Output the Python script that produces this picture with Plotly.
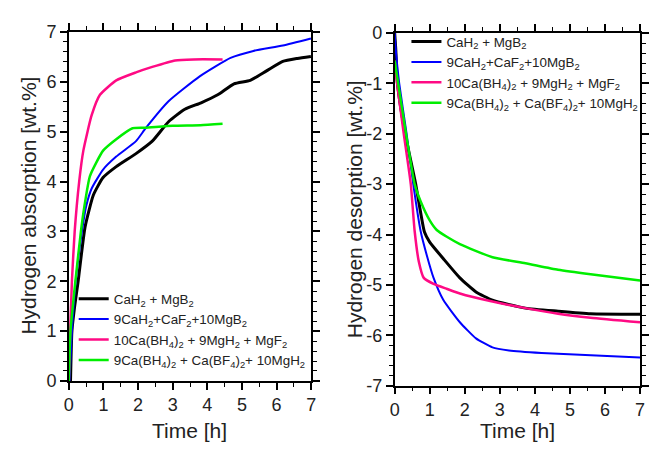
import plotly.graph_objects as go

# ---------------- data ----------------
series_names = [
    "CaH<sub>2</sub> + MgB<sub>2</sub>",
    "9CaH<sub>2</sub>+CaF<sub>2</sub>+10MgB<sub>2</sub>",
    "10Ca(BH<sub>4</sub>)<sub>2</sub> + 9MgH<sub>2</sub> + MgF<sub>2</sub>",
    "9Ca(BH<sub>4</sub>)<sub>2</sub> + Ca(BF<sub>4</sub>)<sub>2</sub>+ 10MgH<sub>2</sub>",
]
series_colors = ["#000000", "#0000ff", "#ff0a84", "#00ee00"]

# absorption (left panel)
abs_black_t = [0.05, 0.09, 0.17, 0.27, 0.47, 0.71, 0.99, 1.37, 1.94, 2.41, 2.88, 3.35, 3.82, 4.30, 4.77, 5.24, 5.71, 6.18, 6.60, 6.99]
abs_black_y = [0.0, 1.0, 1.5, 2.0, 3.09, 3.73, 4.08, 4.30, 4.56, 4.81, 5.20, 5.45, 5.58, 5.74, 5.96, 6.03, 6.22, 6.41, 6.47, 6.51]
abs_blue_t = [0.02, 0.09, 0.20, 0.38, 0.50, 0.66, 0.99, 1.37, 1.94, 2.22, 2.88, 3.78, 4.67, 5.33, 6.18, 6.99]
abs_blue_y = [0.0, 1.0, 2.0, 3.0, 3.5, 3.86, 4.24, 4.50, 4.81, 5.07, 5.61, 6.11, 6.48, 6.62, 6.73, 6.87]
abs_pink_t = [0.0, 0.04, 0.09, 0.17, 0.30, 0.42, 0.66, 0.90, 1.37, 1.94, 2.41, 3.07, 3.60, 4.44]
abs_pink_y = [0.0, 1.0, 2.0, 3.0, 4.0, 4.62, 5.33, 5.74, 6.03, 6.19, 6.30, 6.43, 6.45, 6.45]
abs_green_t = [0.0, 0.05, 0.19, 0.35, 0.45, 0.61, 0.99, 1.37, 1.84, 2.20, 3.00, 3.80, 4.44]
abs_green_y = [0.0, 1.0, 2.0, 3.0, 3.5, 4.11, 4.62, 4.85, 5.07, 5.08, 5.12, 5.13, 5.16]

# desorption (right panel)
des_black_t = [0.0, 0.03, 0.08, 0.30, 0.60, 0.75, 0.85, 1.00, 1.39, 1.86, 2.32, 2.79, 3.73, 4.66, 5.59, 7.0]
des_black_y = [0.0, -0.3, -1.0, -2.0, -3.0, -3.6, -3.95, -4.15, -4.48, -4.86, -5.14, -5.30, -5.46, -5.52, -5.57, -5.58]
des_blue_t = [0.0, 0.04, 0.13, 0.34, 0.53, 0.74, 0.92, 1.11, 1.39, 1.86, 2.32, 2.79, 3.26, 4.19, 5.13, 6.06, 7.0]
des_blue_y = [0.0, -0.4, -1.0, -2.0, -3.0, -3.93, -4.42, -4.86, -5.30, -5.74, -6.06, -6.24, -6.30, -6.35, -6.38, -6.41, -6.44]
des_pink_t = [0.0, 0.07, 0.26, 0.46, 0.57, 0.69, 0.83, 1.11, 1.50, 1.86, 2.79, 3.73, 4.66, 5.59, 7.0]
des_pink_y = [-0.55, -1.0, -2.0, -3.0, -3.93, -4.54, -4.86, -4.98, -5.08, -5.17, -5.33, -5.46, -5.57, -5.65, -5.74]
des_green_t = [0.0, 0.10, 0.27, 0.57, 0.74, 1.00, 1.20, 1.50, 1.86, 2.79, 3.73, 4.66, 5.59, 7.0]
des_green_y = [-0.55, -1.0, -1.76, -3.0, -3.34, -3.72, -3.91, -4.05, -4.19, -4.45, -4.57, -4.70, -4.79, -4.91]

x_ticks = [0, 1, 2, 3, 4, 5, 6, 7]
abs_ticks = [0, 1, 2, 3, 4, 5, 6, 7]
des_ticks = [0, -1, -2, -3, -4, -5, -6, -7]
des_tick_text = ["0", "-1", "-2", "-3", "-4", "-5", "-6", "-7"]

abs_data = [(abs_black_t, abs_black_y), (abs_blue_t, abs_blue_y),
            (abs_pink_t, abs_pink_y), (abs_green_t, abs_green_y)]
des_data = [(des_black_t, des_black_y), (des_blue_t, des_blue_y),
            (des_pink_t, des_pink_y), (des_green_t, des_green_y)]
widths = [3, 2, 2.5, 2.5]

FONT = "Liberation Sans, Arial, sans-serif"
fig = go.Figure()

for i, (t, y) in enumerate(abs_data):
    fig.add_trace(go.Scatter(x=t, y=y, mode="lines", name=series_names[i],
                             line=dict(color=series_colors[i], width=widths[i], shape="spline", smoothing=0.5),
                             xaxis="x", yaxis="y", legend="legend"))
for i, (t, y) in enumerate(des_data):
    fig.add_trace(go.Scatter(x=t, y=y, mode="lines", name=series_names[i],
                             line=dict(color=series_colors[i], width=widths[i], shape="spline", smoothing=0.5),
                             xaxis="x2", yaxis="y2", legend="legend2"))

W, H = 649, 455
def px_x(p): return p / W
def px_y(p): return 1 - p / H

axis_common = dict(
    showgrid=False, zeroline=False, showline=True, linecolor="black", linewidth=1.5,
    mirror="allticks", ticks="outside", ticklen=7, tickwidth=1.5, tickcolor="black",
    tickfont=dict(family=FONT, size=18, color="#222"),
)
minor_x = dict(dtick=0.5, ticklen=4, tickwidth=1.2, tickcolor="black", ticks="outside")
minor_y = dict(dtick=0.2, ticklen=4, tickwidth=1.2, tickcolor="black", ticks="outside")

title_font = dict(family=FONT, size=21, color="#222")
legend_font = dict(family=FONT, size=13.4, color="#222")

fig.update_layout(
    width=W, height=H, margin=dict(l=0, r=0, t=0, b=0),
    paper_bgcolor="white", plot_bgcolor="white",
    font=dict(family=FONT, color="black"),
    xaxis=dict(domain=[px_x(65), px_x(312)], range=[0, 7], tickvals=x_ticks, minor=minor_x,
               anchor="y", **axis_common),
    yaxis=dict(domain=[px_y(388), px_y(23)], range=[0, 7], tickvals=abs_ticks, minor=minor_y,
               anchor="x", **axis_common),
    xaxis2=dict(domain=[px_x(397), px_x(647)], range=[0, 7], tickvals=x_ticks, minor=minor_x,
                anchor="y2", **axis_common),
    yaxis2=dict(domain=[px_y(393), px_y(24)], range=[-7, 0], tickvals=des_ticks, ticktext=des_tick_text,
                minor=minor_y, anchor="x2", **axis_common),
    legend=dict(x=px_x(70), y=px_y(286), xanchor="left", yanchor="top",
                bgcolor="rgba(0,0,0,0)", font=legend_font,
                tracegroupgap=0, itemwidth=30),
    legend2=dict(x=px_x(409), y=px_y(17), xanchor="left", yanchor="top",
                 bgcolor="rgba(0,0,0,0)", font=legend_font,
                 tracegroupgap=0, itemwidth=30),
    annotations=[
        dict(text="Hydrogen absorption [wt.%]", x=px_x(24), y=px_y(205), xref="paper", yref="paper",
             xanchor="center", yanchor="middle", showarrow=False, textangle=-90, font=title_font),
        dict(text="Hydrogen desorption [wt.%]", x=px_x(356), y=px_y(208), xref="paper", yref="paper",
             xanchor="center", yanchor="middle", showarrow=False, textangle=-90, font=title_font),
        dict(text="Time [h]", x=px_x(188), y=px_y(440), xref="paper", yref="paper",
             xanchor="center", yanchor="middle", showarrow=False, font=title_font),
        dict(text="Time [h]", x=px_x(522), y=px_y(440), xref="paper", yref="paper",
             xanchor="center", yanchor="middle", showarrow=False, font=title_font),
    ],
)

fig.write_html("out.html")
